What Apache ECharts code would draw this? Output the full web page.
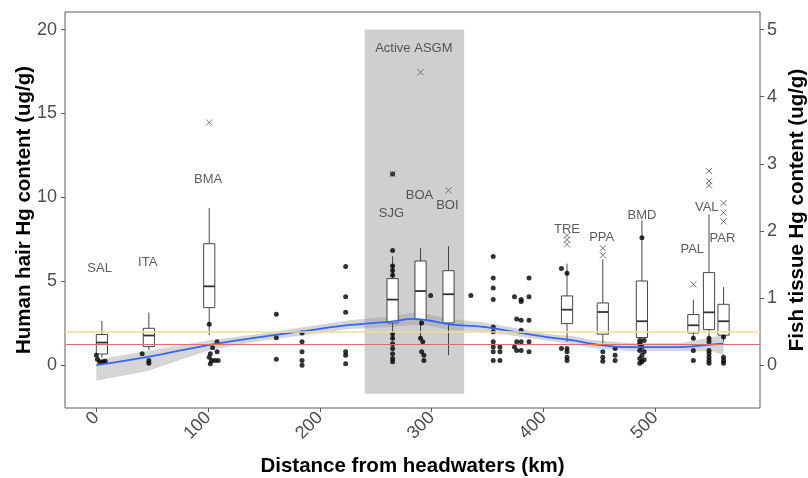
<!DOCTYPE html>
<html><head><meta charset="utf-8">
<script src="https://cdn.jsdelivr.net/npm/echarts@6/dist/echarts.min.js"></script>
<style>html,body{margin:0;padding:0;background:#fff}#c{width:808px;height:478px}</style>
</head><body><div id="c"></div>
<script>
// ---- Data ----
const sites = ['SAL','ITA','BMA','SJG','BOA','BOI','TRE','PPA','BMD','PAL','VAL','PAR'];
const siteKm = [5, 47, 101, 265, 290, 315, 421, 453, 488, 534, 548, 561];
const hairLowWhisker = [0.45, 0.9, 1.8, 1.5, 1.6, 0.6, 1.4, 1.3, 1.2, 1.5, 1.6, 1.4];
const hairQ1 = [0.67, 1.11, 3.43, 2.52, 2.72, 2.52, 2.48, 1.85, 1.65, 1.92, 2.12, 1.79];
const hairMedian = [1.35, 1.77, 4.70, 3.91, 4.42, 4.23, 3.31, 3.17, 2.62, 2.38, 3.15, 2.62];
const hairQ3 = [1.83, 2.20, 7.24, 5.16, 6.21, 5.63, 4.13, 3.71, 5.02, 3.02, 5.52, 3.63];
const hairHighWhisker = [2.64, 3.14, 9.37, 6.5, 6.98, 7.1, 6.05, 6.3, 8.63, 3.91, 8.99, 4.66];

const outlierKm = [101, 265, 290, 315, 421, 421, 421, 453, 453, 534, 548, 548, 548, 561, 561, 561];
const outlierHair = [14.46, 11.4, 17.46, 10.42, 7.74, 7.48, 7.2, 6.98, 6.55, 4.82, 11.57, 10.97, 10.71, 9.66, 9.09, 8.57];

const labelText = ['SAL','ITA','BMA','SJG','BOA','BOI','TRE','PPA','BMD','PAL','VAL','PAR','Active ASGM'];
const labelKm = [3, 46, 100, 264, 289, 314, 421, 452, 488, 533, 546, 560, 284];
const labelHair = [5.77, 6.1, 11.1, 9.05, 10.1, 9.5, 8.1, 7.6, 8.93, 6.9, 9.4, 7.56, 18.9];

const fishKm = [0,1,3,6,8, 41,47,47,
  101,104,108,108,102,101,103,106,109,102,
  161,161,161, 184,184,184,184,184, 223,223,223,223,223,223,
  265,265,265,265,265,265,265,265,265,265,265,265,
  291,290,292,291,293,293, 299, 335,
  355,355,355,355,355,355,355,355,355,355, 361,361,361,
  374,380,380,387,387,387,380,376,380,380,376,374,376,380,387,387,
  416,421,416,421,421,421,421,
  453,453,453,464,464,464,
  488,486,490,486,488,486,490,488,486,490,488,486,
  534,534,534, 548,548,548,548,548,548,548, 561,561,561,561];
const fishHg = [0.15,0.09,0.05,0.05,0.06, 0.17,0.07,0.03,
  0.61,0.26,0.35,0.2,0.17,0.12,0.07,0.07,0.07,0.02,
  0.76,0.41,0.09, 0.48,0.35,0.2,0.07,0.0, 1.47,1.02,0.79,0.2,0.15,0.02,
  2.85,1.71,1.48,1.41,1.34,0.47,0.4,0.32,0.25,0.17,0.1,0.05,
  0.63,0.4,0.35,0.2,0.15,0.07, 1.04, 1.04,
  1.62,1.3,1.15,0.98,0.57,0.5,0.35,0.27,0.2,0.07, 0.27,0.2,0.07,
  1.02,0.98,0.95,1.3,1.02,0.67,0.67,0.69,0.52,0.35,0.35,0.27,0.22,0.22,0.35,0.2,
  1.44,1.37,0.25,0.25,0.2,0.12,0.07,
  0.2,0.12,0.06,0.25,0.15,0.07,
  1.9,0.37,0.37,0.32,0.27,0.22,0.2,0.15,0.1,0.08,0.05,0.03,
  0.4,0.22,0.07, 0.4,0.35,0.22,0.17,0.12,0.07,0.03, 0.42,0.12,0.07,0.03];

const smoothKm = [0, 45, 100, 146, 182, 227, 263, 283, 296, 316, 346, 373, 403, 427, 442, 477, 522, 552, 561];
const smoothFit = [0.0, 0.12, 0.30, 0.42, 0.5, 0.6, 0.65, 0.69, 0.67, 0.61, 0.57, 0.5, 0.42, 0.37, 0.32, 0.27, 0.27, 0.31, 0.32];
const smoothLo = [-0.23, -0.09, 0.22, 0.36, 0.44, 0.54, 0.57, 0.6, 0.59, 0.53, 0.5, 0.44, 0.37, 0.31, 0.26, 0.21, 0.21, 0.2, 0.15];
const smoothHi = [0.08, 0.21, 0.37, 0.47, 0.56, 0.67, 0.73, 0.78, 0.76, 0.69, 0.64, 0.56, 0.47, 0.43, 0.38, 0.33, 0.33, 0.42, 0.45];

const hairThresholds = [2.0, 1.25];
const asgmKm = [240, 329];
const asgmHair = [-1.7, 20];

const xTicks = [0, 100, 200, 300, 400, 500];
const hairTicks = [0, 5, 10, 15, 20];
const fishTicks = [0, 1, 2, 3, 4, 5];

// ---- Chart ----
const FONT = "'Liberation Sans', Arial, sans-serif";
const hairMin = -2.55, hairMax = 21.05;
const chart = echarts.init(document.getElementById('c'), null, {renderer: 'canvas'});

const tickLabel = {color: '#4d4d4d', fontSize: 18, fontFamily: FONT};
const nameStyle = {color: '#000', fontSize: 20.5, fontWeight: 'bold', fontFamily: FONT};

const option = {
  animation: false,
  backgroundColor: '#fff',
  grid: {left: 65, right: 48, top: 12, bottom: 70, containLabel: false, outerBoundsMode: 'none',
    show: true, borderColor: '#5a5a5a', borderWidth: 1, backgroundColor: 'transparent'},
  xAxis: {
    type: 'value', min: -28, max: 593.6,
    name: 'Distance from headwaters (km)', nameLocation: 'middle', nameGap: 47.5, nameMoveOverlap: false, nameTextStyle: nameStyle,
    axisLine: {show: false, onZero: false},
    axisTick: {show: true, length: 4, lineStyle: {color: '#5a5a5a'}, customValues: xTicks},
    axisLabel: Object.assign({rotate: 45, margin: 7, customValues: xTicks}, tickLabel),
    splitLine: {show: false}
  },
  yAxis: [{
    type: 'value', min: hairMin, max: hairMax, position: 'left',
    name: 'Human hair Hg content (ug/g)', nameLocation: 'middle', nameGap: 30, nameMoveOverlap: false, nameTextStyle: nameStyle,
    axisLine: {show: false, onZero: false},
    axisTick: {show: true, length: 4, lineStyle: {color: '#5a5a5a'}, customValues: hairTicks},
    axisLabel: Object.assign({margin: 8, customValues: hairTicks}, tickLabel),
    splitLine: {show: false}
  }, {
    type: 'value', min: hairMin / 4, max: hairMax / 4, position: 'right',
    name: 'Fish tissue Hg content (ug/g)', nameLocation: 'middle', nameGap: 26.5, nameRotate: 90, nameMoveOverlap: false, nameTextStyle: nameStyle,
    axisLine: {show: false, onZero: false},
    axisTick: {show: true, length: 4, lineStyle: {color: '#5a5a5a'}, customValues: fishTicks},
    axisLabel: Object.assign({margin: 7, customValues: fishTicks}, tickLabel),
    splitLine: {show: false}
  }],
  series: [
    {
      type: 'line', yAxisIndex: 0, data: [], silent: true,
      markArea: {silent: true, itemStyle: {color: '#cfcfcf'},
        data: [[{xAxis: asgmKm[0], yAxis: asgmHair[0]}, {xAxis: asgmKm[1], yAxis: asgmHair[1]}]]},
      markLine: {silent: true, symbol: 'none', label: {show: false},
        data: [
          {yAxis: hairThresholds[0], lineStyle: {color: '#eedc9a', width: 1.5, type: 'solid'}},
          {yAxis: hairThresholds[1], lineStyle: {color: '#e56b6b', width: 1.2, type: 'solid'}}
        ]}
    },
    {
      type: 'custom', yAxisIndex: 1, silent: true,
      data: smoothKm.map((k, i) => [k, smoothLo[i], smoothHi[i]]),
      renderItem: function (params, api) {
        if (params.dataIndex !== 0) return null;
        const pts = [];
        for (let i = 0; i < smoothKm.length; i++) pts.push(api.coord([smoothKm[i], smoothHi[i]]));
        for (let i = smoothKm.length - 1; i >= 0; i--) pts.push(api.coord([smoothKm[i], smoothLo[i]]));
        return {type: 'polygon', shape: {points: pts}, style: {fill: 'rgba(150,150,150,0.4)'}};
      }
    },
    {
      type: 'line', yAxisIndex: 1, smooth: 0.4, symbol: 'none', silent: true,
      data: smoothKm.map((k, i) => [k, smoothFit[i]]),
      lineStyle: {color: '#3366ff', width: 1.8}
    },
    {
      type: 'custom', yAxisIndex: 0, silent: true,
      data: siteKm.map((k, i) => [k, hairLowWhisker[i], hairQ1[i], hairMedian[i], hairQ3[i], hairHighWhisker[i]]),
      encode: {x: 0, y: [1, 2, 3, 4, 5]},
      renderItem: function (params, api) {
        const x = api.value(0);
        const w = api.size([10, 0])[0];
        const c = v => api.coord([x, v]);
        const lo = c(api.value(1)), q1 = c(api.value(2)), md = c(api.value(3)), q3 = c(api.value(4)), hi = c(api.value(5));
        const st = {stroke: '#333', lineWidth: 0.9, fill: null};
        return {type: 'group', children: [
          {type: 'line', shape: {x1: hi[0], y1: hi[1], x2: q3[0], y2: q3[1]}, style: st},
          {type: 'line', shape: {x1: q1[0], y1: q1[1], x2: lo[0], y2: lo[1]}, style: st},
          {type: 'rect', shape: {x: q3[0] - w / 2, y: q3[1], width: w, height: q1[1] - q3[1]}, style: {fill: '#fff', stroke: '#333', lineWidth: 0.9}},
          {type: 'line', shape: {x1: md[0] - w / 2, y1: md[1], x2: md[0] + w / 2, y2: md[1]}, style: {stroke: '#333', lineWidth: 1.8}}
        ]};
      }
    },
    {
      type: 'scatter', yAxisIndex: 1, silent: true, symbol: 'circle', symbolSize: 5,
      data: fishKm.map((k, i) => [k, fishHg[i]]),
      itemStyle: {color: '#000'}
    },
    {
      type: 'scatter', yAxisIndex: 0, silent: true,
      symbol: 'path://M0 0L10 10M10 0L0 10', symbolSize: 6,
      data: outlierKm.map((k, i) => [k, outlierHair[i]]),
      itemStyle: {color: 'rgba(0,0,0,0)', borderColor: '#555', borderWidth: 1}
    },
    {
      type: 'scatter', yAxisIndex: 0, silent: true, symbolSize: 0,
      data: labelKm.map((k, i) => [k, labelHair[i], labelText[i]]),
      label: {show: true, position: 'inside', formatter: p => p.data[2], color: '#333', fontSize: 13, fontFamily: FONT}
    }
  ]
};
chart.setOption(option);
</script></body></html>
